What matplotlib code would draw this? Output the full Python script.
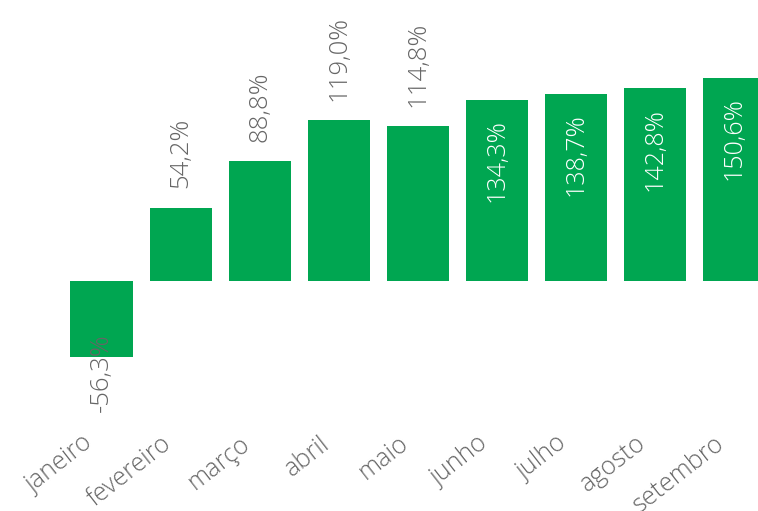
import matplotlib.pyplot as plt
from matplotlib.transforms import offset_copy

months = ["janeiro", "fevereiro", "março", "abril", "maio",
          "junho", "julho", "agosto", "setembro"]
values = [-56.3, 54.2, 88.8, 119.0, 114.8, 134.3, 138.7, 142.8, 150.6]
labels = ["-56,3%", "54,2%", "88,8%", "119,0%", "114,8%",
          "134,3%", "138,7%", "142,8%", "150,6%"]
inside = [False, False, False, False, False, True, True, True, True]

green = "#00A651"
grey = "#666666"
plt.rcParams['font.family'] = ['Open Sans', 'DejaVu Sans']

fig = plt.figure(figsize=(7.58, 5.11), dpi=100)
# axes spans full width, top of figure down to 425 px
ax = fig.add_axes([0, 86 / 511, 1, 425 / 511])

x = list(range(len(months)))
ax.bar(x, values, width=0.785, color=green)

# 79.1 px per category, 1.35 px per percent
ax.set_xlim(-101.5 / 79.1, (758 - 101.5) / 79.1)
ax.set_ylim(-(425 - 281) / 1.35, 281 / 1.35)
ax.axis("off")

for i, (v, lab, ins) in enumerate(zip(values, labels, inside)):
    if ins:
        ax.annotate(lab, (i, v), xytext=(0, -14), textcoords="offset points",
                    rotation=90, ha="center", va="top", color="white",
                    fontsize=18, fontweight="light")
    elif v < 0:
        ax.annotate(lab, (i, v), xytext=(0, 17), textcoords="offset points",
                    rotation=90, ha="center", va="top", color=grey,
                    fontsize=18.5, fontweight="light")
    else:
        ax.annotate(lab, (i, v), xytext=(0, 14), textcoords="offset points",
                    rotation=90, ha="center", va="bottom", color=grey,
                    fontsize=18.5, fontweight="light")

# month labels below the plot
tr = offset_copy(ax.get_xaxis_transform(), fig=fig, x=-20, y=-6, units="dots")
for i, m in enumerate(months):
    ax.text(i, 0, m, transform=tr, rotation=38, rotation_mode="anchor",
            ha="right", va="top", color=grey, fontsize=18, fontweight="light",
            clip_on=False)

fig.savefig("out.png", dpi=100)
